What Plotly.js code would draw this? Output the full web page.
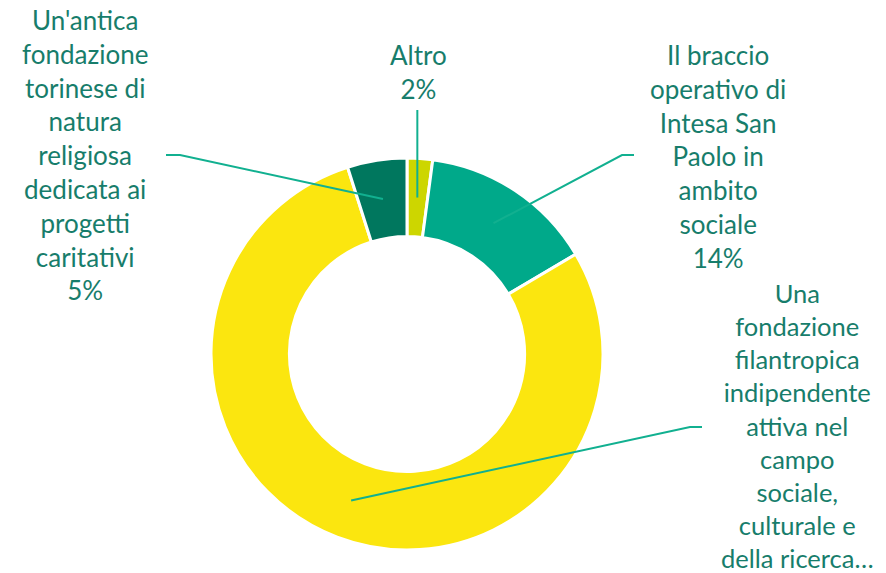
<!DOCTYPE html>
<html>
<head>
<meta charset="utf-8">
<script src="https://cdn.plot.ly/plotly-3.0.1.min.js"></script>
<style>html,body{margin:0;padding:0;background:#fff;}#chart{width:886px;height:573px;}</style>
</head>
<body>
<div id="chart"></div>
<script>
// Data
const categories = [
  "Altro",
  "Il braccio operativo di Intesa San Paolo in ambito sociale",
  "Una fondazione filantropica indipendente attiva nel campo sociale, culturale e della ricerca…",
  "Un'antica fondazione torinese di natura religiosa dedicata ai progetti caritativi"
];
const values = [2.1, 14.4, 78.6, 4.9];
const labelLines = [
  ["Altro"],
  ["Il braccio", "operativo di", "Intesa San", "Paolo in", "ambito", "sociale"],
  ["Una", "fondazione", "filantropica", "indipendente", "attiva nel", "campo", "sociale,", "culturale e", "della ricerca…"],
  ["Un'antica", "fondazione", "torinese di", "natura", "religiosa", "dedicata ai", "progetti", "caritativi"]
];
// the third label is truncated in the original, so its percent is not shown
const showPercent = [true, true, false, true];
const colors = ["#cdd600", "#00a98a", "#fbe60f", "#00775e"];

// Layout geometry (pixels)
const W = 886, H = 573;
const cx = 407, cy = 354, R = 196, hole = 0.6;
const midR = R * (1 + hole) / 2;
const px = x => x / W, py = y => 1 - y / H;

const labelPos = [
  {tx: 418, ty: 72, path: "v", fs: 26},
  {tx: 718, ty: 156, ex: 622, ey: 155, hx: 634, fs: 26},
  {tx: 797, ty: 425, ex: 690, ey: 427, hx: 702, fs: 25.5},
  {tx: 85,  ty: 155, ex: 180, ey: 155, hx: 166, fs: 26}
];

const total = values.reduce((a, b) => a + b, 0);
let cum = 0;
const shapes = [], annotations = [];
values.forEach((v, i) => {
  const midFrac = (cum + v / 2) / total;
  cum += v;
  const ang = midFrac * 2 * Math.PI;
  const mx = cx + midR * Math.sin(ang);
  const my = cy - midR * Math.cos(ang);
  const pct = Math.round(v / total * 100) + "%";
  const lp = labelPos[i];
  let path;
  if (lp.path === "v") {
    path = `M ${px(mx)} ${py(my)} L ${px(mx)} ${py(110)}`;
  } else {
    path = `M ${px(mx)} ${py(my)} L ${px(lp.ex)} ${py(lp.ey)} L ${px(lp.hx)} ${py(lp.ey)}`;
  }
  shapes.push({type: "path", xref: "paper", yref: "paper", path: path,
    line: {color: "#11b090", width: 2}});
  const lines = showPercent[i] ? labelLines[i].concat([pct]) : labelLines[i];
  annotations.push({
    xref: "paper", yref: "paper", x: px(lp.tx), y: py(lp.ty),
    xanchor: "center", yanchor: "middle", showarrow: false, align: "center",
    text: lines.join("<br>"),
    font: {family: "Lato, 'Open Sans', sans-serif", size: lp.fs, color: "#177d6b"}
  });
});

const trace = {
  type: "pie",
  labels: categories,
  values: values,
  hole: hole,
  sort: false,
  direction: "clockwise",
  rotation: 0,
  textinfo: "none",
  hoverinfo: "label+percent",
  marker: {colors: colors, line: {color: "#ffffff", width: 3}},
  domain: {x: [px(cx - R), px(cx + R)], y: [py(cy + R), py(cy - R)]},
  showlegend: false
};

const layout = {
  width: W, height: H,
  margin: {l: 0, r: 0, t: 0, b: 0},
  paper_bgcolor: "#ffffff",
  showlegend: false,
  shapes: shapes,
  annotations: annotations
};

Plotly.newPlot("chart", [trace], layout, {displayModeBar: false, staticPlot: true});
</script>
</body>
</html>
